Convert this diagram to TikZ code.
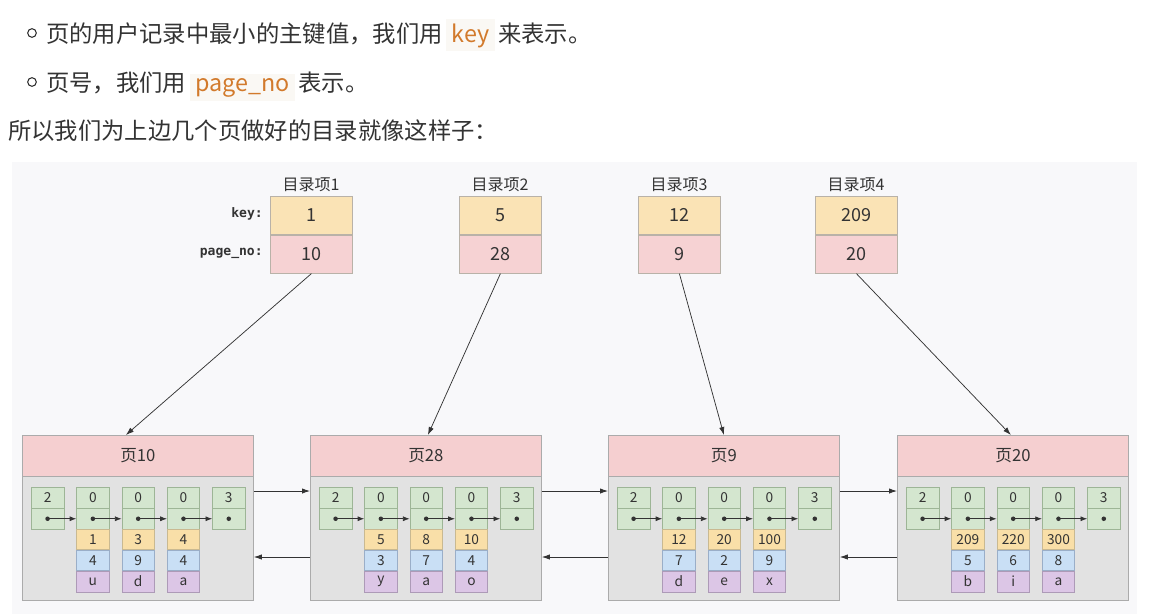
\documentclass[tikz,border=0pt]{standalone}
\usepackage{fontspec}
\setmainfont{Noto Sans CJK SC}
\newfontfamily\monof{DejaVu Sans Mono}
\usetikzlibrary{arrows.meta,calc}
\definecolor{txtc}{HTML}{333333}
\definecolor{panelc}{HTML}{F8F8FA}
\definecolor{codebg}{HTML}{FAF8F4}
\definecolor{codec}{HTML}{D27A2C}
\definecolor{keyfill}{HTML}{FAE3B5}
\definecolor{pnofill}{HTML}{F6D2D3}
\definecolor{dborder}{HTML}{B9B2A8}
\definecolor{hdrfill}{HTML}{F5CFD0}
\definecolor{bodyfill}{HTML}{E2E2E2}
\definecolor{pborder}{HTML}{ABABAB}
\definecolor{gfill}{HTML}{D4E6CF}
\definecolor{gborder}{HTML}{9DB596}
\definecolor{yfill}{HTML}{F9DFA8}
\definecolor{yborder}{HTML}{C9B991}
\definecolor{bfill}{HTML}{C9DFF5}
\definecolor{bborder}{HTML}{9AAEC8}
\definecolor{vfill}{HTML}{DCC6E6}
\definecolor{vborder}{HTML}{AD9AB7}
\newcommand\pxl[1]{#1*0.75pt}
\tikzset{
  toptxt/.style={text=txtc, inner sep=0pt, font=\fontsize{17.5}{20}\selectfont},
  codetxt/.style={fill=codebg, text=codec, inner xsep=4pt, inner ysep=3pt, font=\fontsize{17.5}{20}\selectfont},
  bulletc/.style={circle, draw=txtc, line width=0.8pt, minimum size=6.5pt, inner sep=0pt},
  dlbl/.style={text=txtc, inner sep=0pt, font=\fontsize{12}{14}\selectfont},
  flbl/.style={text=txtc, inner sep=0pt, font=\monof\bfseries\fontsize{9.8}{11}\selectfont},
  dcell/.style={draw=dborder, line width=0.6pt, minimum width={\pxl{82}}, minimum height={\pxl{38}}, inner sep=0pt, text=txtc, font=\fontsize{13.5}{15}\selectfont},
  keyc/.style={dcell, fill=keyfill},
  pnoc/.style={dcell, fill=pnofill},
  hdr/.style={draw=pborder, line width=0.6pt, fill=hdrfill, minimum width={\pxl{231}}, minimum height={\pxl{41}}, inner sep=0pt, text=txtc, font=\fontsize{12.5}{14}\selectfont},
  bodyb/.style={draw=pborder, line width=0.6pt, fill=bodyfill, minimum width={\pxl{231}}, minimum height={\pxl{124}}, inner sep=0pt},
  scell/.style={line width=0.5pt, minimum width={\pxl{32.5}}, minimum height={\pxl{20}}, inner sep=0pt, text=txtc, font=\fontsize{10.3}{12}\selectfont},
  gcell/.style={scell, draw=gborder, fill=gfill, minimum height={\pxl{20.5}}},
  ycell/.style={scell, draw=yborder, fill=yfill},
  bcell/.style={scell, draw=bborder, fill=bfill},
  vcell/.style={scell, draw=vborder, fill=vfill, minimum height={\pxl{21}}},
  diag/.style={draw=txtc, line width=0.55pt, -{Latex[length=6pt,width=4pt]}},
  parr/.style={draw=txtc, line width=0.6pt, -{Latex[length=6pt,width=4pt]}},
  inarr/.style={draw=txtc, line width=0.6pt, -{Latex[length=5pt,width=3.8pt]}},
}
\newcommand\pagebox[6]{%
  \node[hdr, anchor=north west] (#1h) at (#2,435) {#3};
  \node[bodyb, anchor=north west] (#1b) at (#2,476) {};
  \foreach \i/\v in {0/2,1/0,2/0,3/0,4/3} {
    \node[gcell, anchor=north west] (#1t\i) at ({#2+9+45.3*\i},487) {\v};
    \node[gcell, anchor=north] (#1d\i) at (#1t\i.south) {};
  }
  \foreach \v [count=\j] in {#4} {\node[ycell, anchor=north] (#1y\j) at (#1d\j.south) {\v};}
  \foreach \v [count=\j] in {#5} {\node[bcell, anchor=north] (#1u\j) at (#1y\j.south) {\v};}
  \foreach \v [count=\j] in {#6} {\node[vcell, anchor=north] (#1v\j) at (#1u\j.south) {\v};}
  \foreach \i in {0,1,2,3} {
    \pgfmathtruncatemacro\nxt{\i+1}
    \draw[inarr] (#1d\i.center) -- (#1d\nxt.west);
  }
  \foreach \i in {0,...,4} {\fill[txtc] (#1d\i.center) circle[radius=1.7pt];}
}
\begin{document}
\begin{tikzpicture}[x=0.75pt,y=-0.75pt]
\useasboundingbox (0,0) rectangle (1169,614);
\fill[white] (0,0) rectangle (1169,614);
\fill[panelc] (12,162) rectangle (1137,614);

% top text
\node[bulletc] (b1) at (32,33) {};
\node[toptxt, anchor=base west] (l1a) at (46,42) {页的用户记录中最小的主键值，我们用};
\node[codetxt, anchor=base west] (l1k) at ($(l1a.base east)+(3,0)$) {key};
\node[toptxt, anchor=base west] (l1c) at ($(l1k.base east)+(3,0)$) {来表示。};
\node[bulletc] (b2) at (32,82) {};
\node[toptxt, anchor=base west] (l2a) at (46,91) {页号，我们用};
\node[codetxt, anchor=base west] (l2k) at ($(l2a.base east)+(3,0)$) {page\_no};
\node[toptxt, anchor=base west] (l2c) at ($(l2k.base east)+(3,0)$) {表示。};
\node[toptxt, anchor=base west] (l3) at (8,139) {所以我们为上边几个页做好的目录就像这样子：};

% directory entries
\node[keyc, anchor=north west] (k1) at (270,196) {1};
\node[pnoc, anchor=north] (n1) at (k1.south) {10};
\node[keyc, anchor=north west] (k2) at (459,196) {5};
\node[pnoc, anchor=north] (n2) at (k2.south) {28};
\node[keyc, anchor=north west] (k3) at (638,196) {12};
\node[pnoc, anchor=north] (n3) at (k3.south) {9};
\node[keyc, anchor=north west] (k4) at (815,196) {209};
\node[pnoc, anchor=north] (n4) at (k4.south) {20};
\node[dlbl] (t1) at (311,185) {目录项1};
\node[dlbl] (t2) at (500,185) {目录项2};
\node[dlbl] (t3) at (679,185) {目录项3};
\node[dlbl] (t4) at (856,185) {目录项4};
\node[flbl, anchor=east] (klbl) at (263,214) {key:};
\node[flbl, anchor=east] (plbl) at (263,253) {page\_no:};

% pages
\pagebox{pa}{22}{页10}{1,3,4}{4,9,4}{u,d,a}
\pagebox{pb}{310}{页28}{5,8,10}{3,7,4}{y,a,o}
\pagebox{pc}{608}{页9}{12,20,100}{7,2,9}{d,e,x}
\pagebox{pd}{897}{页20}{209,220,300}{5,6,8}{b,i,a}

% directory to page arrows
\draw[diag] (n1.south) -- ($(pah.north)+(-12,0)$);
\draw[diag] (n2.south) -- ($(pbh.north)+(2,0)$);
\draw[diag] (n3.south) -- (pch.north);
\draw[diag] (n4.south) -- ($(pdh.north)+(-2,0)$);

% page links
\draw[parr] ($(pab.north east)+(0,15)$) -- ($(pbb.north west)+(0,15)$);
\draw[parr] ($(pbb.north west)+(0,81)$) -- ($(pab.north east)+(0,81)$);
\draw[parr] ($(pbb.north east)+(0,15)$) -- ($(pcb.north west)+(0,15)$);
\draw[parr] ($(pcb.north west)+(0,81)$) -- ($(pbb.north east)+(0,81)$);
\draw[parr] ($(pcb.north east)+(0,15)$) -- ($(pdb.north west)+(0,15)$);
\draw[parr] ($(pdb.north west)+(0,81)$) -- ($(pcb.north east)+(0,81)$);
\end{tikzpicture}
\end{document}
